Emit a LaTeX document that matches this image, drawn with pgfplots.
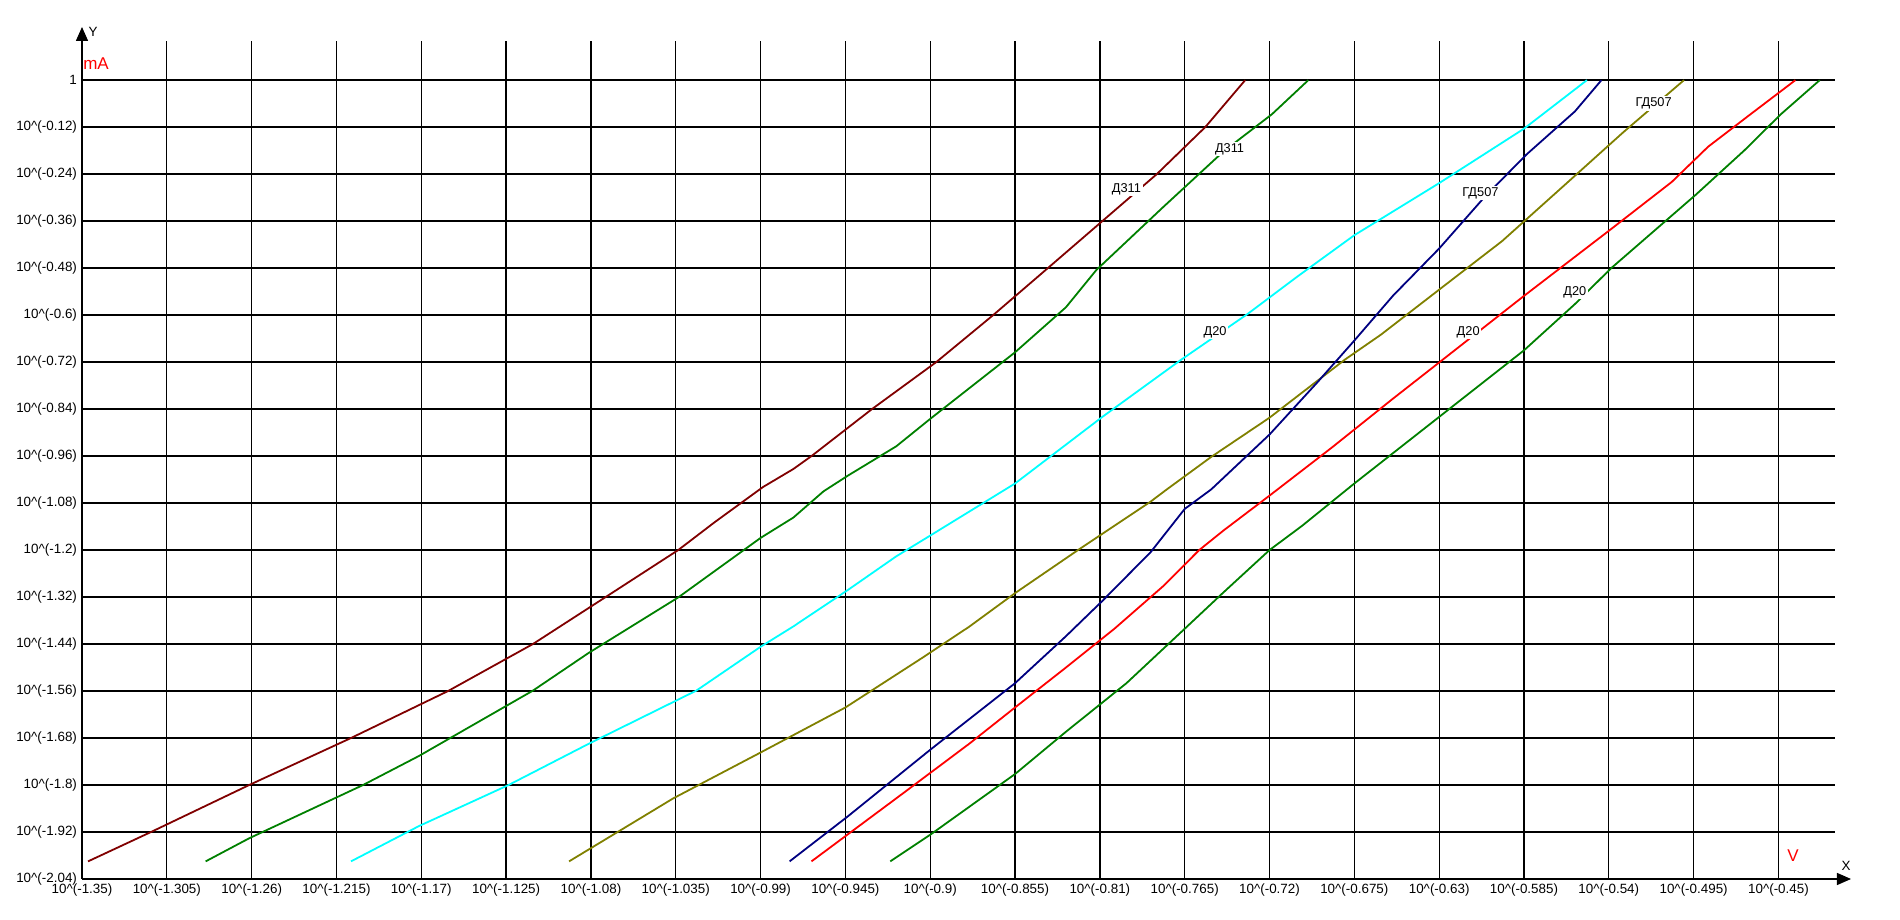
\documentclass[border=0pt]{standalone}
\usepackage{pgfplots}
\pgfplotsset{compat=1.18}
\usepackage{fontspec}
\setmainfont{Liberation Sans}
\usetikzlibrary{arrows.meta}

\definecolor{dred}{HTML}{800000}
\definecolor{dgreen}{HTML}{008000}
\definecolor{olive}{HTML}{808000}
\definecolor{navy}{HTML}{000080}
\definecolor{cyan}{HTML}{00FFFF}

\newcommand{\tp}[1]{10\textasciicircum(#1)}

\begin{document}
\begin{tikzpicture}
\useasboundingbox (0,0) rectangle (950pt,460pt);
\begin{axis}[
    scale only axis,
    width=876.5pt, height=419pt,
    at={(41pt,20.5pt)}, anchor=south west,
    xmin=-1.35, xmax=-0.42,
    ymin=-2.04, ymax=0.1,
    axis x line=bottom, axis y line=left,
    axis line style={line width=0.7pt, -{Triangle[length=7pt,width=6pt]}},
    x axis line style={shorten >=-8pt},
    y axis line style={shorten >=-7pt},
    major tick length=0pt,
    grid=major,
    major grid style={black, line width=0.65pt},
    font=\fontsize{6.7}{7.5}\selectfont,
    xtick={-1.35,-1.305,-1.26,-1.215,-1.17,-1.125,-1.08,-1.035,-0.99,-0.945,-0.9,-0.855,-0.81,-0.765,-0.72,-0.675,-0.63,-0.585,-0.54,-0.495,-0.45},
    xticklabels={\tp{-1.35},\tp{-1.305},\tp{-1.26},\tp{-1.215},\tp{-1.17},\tp{-1.125},\tp{-1.08},\tp{-1.035},\tp{-0.99},\tp{-0.945},\tp{-0.9},\tp{-0.855},\tp{-0.81},\tp{-0.765},\tp{-0.72},\tp{-0.675},\tp{-0.63},\tp{-0.585},\tp{-0.54},\tp{-0.495},\tp{-0.45}},
    ytick={0,-0.12,-0.24,-0.36,-0.48,-0.6,-0.72,-0.84,-0.96,-1.08,-1.2,-1.32,-1.44,-1.56,-1.68,-1.8,-1.92,-2.04},
    yticklabels={1,\tp{-0.12},\tp{-0.24},\tp{-0.36},\tp{-0.48},\tp{-0.6},\tp{-0.72},\tp{-0.84},\tp{-0.96},\tp{-1.08},\tp{-1.2},\tp{-1.32},\tp{-1.44},\tp{-1.56},\tp{-1.68},\tp{-1.8},\tp{-1.92},\tp{-2.04}},
    xticklabel style={yshift=1pt},
    yticklabel style={xshift=1pt},
    every axis plot/.append style={line width=0.9pt, line join=round},
]

% Д311 (dark red)
\addplot[dred] coordinates {
(-1.3468,-1.995) (-1.3134,-1.92) (-1.2613,-1.80) (-1.2073,-1.68) (-1.1558,-1.56)
(-1.1108,-1.44) (-1.0722,-1.32) (-1.0337,-1.20) (-1.0144,-1.129) (-0.9887,-1.039)
(-0.9726,-0.993) (-0.9630,-0.96) (-0.9309,-0.84) (-0.8968,-0.72) (-0.8666,-0.60)
(-0.8376,-0.48) (-0.8087,-0.36) (-0.7798,-0.24) (-0.7541,-0.12) (-0.7329,0)
};

% Д311 (green)
\addplot[dgreen] coordinates {
(-1.2844,-1.995) (-1.2613,-1.936) (-1.2009,-1.800) (-1.1713,-1.726) (-1.1108,-1.559)
(-1.0813,-1.463) (-1.0337,-1.321) (-0.9900,-1.169) (-0.9726,-1.117) (-0.9566,-1.050)
(-0.9437,-1.010) (-0.9180,-0.935) (-0.9000,-0.865) (-0.8550,-0.695) (-0.8280,-0.580)
(-0.8119,-0.485) (-0.7766,-0.325) (-0.7444,-0.182) (-0.7187,-0.087) (-0.6994,0)
};

% Д20 (cyan)
\addplot[cyan] coordinates {
(-1.2073,-1.995) (-1.1713,-1.905) (-1.1237,-1.800) (-1.0813,-1.695) (-1.0241,-1.559)
(-0.9900,-1.447) (-0.9726,-1.395) (-0.9437,-1.302) (-0.9180,-1.216) (-0.9000,-1.163)
(-0.8550,-1.030) (-0.8087,-0.860) (-0.7669,-0.714) (-0.7316,-0.597)
(-0.7059,-0.504) (-0.6750,-0.396) (-0.6300,-0.263) (-0.5850,-0.124) (-0.5516,0)
};

% ГД507 (olive)
\addplot[olive] coordinates {
(-1.0916,-1.995) (-1.0363,-1.834) (-0.9900,-1.717) (-0.9450,-1.602) (-0.9051,-1.478)
(-0.8794,-1.396) (-0.8550,-1.310) (-0.8216,-1.200) (-0.7830,-1.076) (-0.7753,-1.048)
(-0.7509,-0.962) (-0.7200,-0.862) (-0.6801,-0.714) (-0.6609,-0.650) (-0.6300,-0.535)
(-0.5966,-0.411) (-0.5644,-0.272) (-0.5323,-0.133) (-0.5001,0)
};

% ГД507 (navy)
\addplot[navy] coordinates {
(-0.9746,-1.995) (-0.9437,-1.880) (-0.9000,-1.710) (-0.8550,-1.540) (-0.8280,-1.420)
(-0.8087,-1.330) (-0.7830,-1.205) (-0.7650,-1.095) (-0.7509,-1.045)
(-0.7200,-0.905) (-0.6943,-0.770) (-0.6750,-0.665) (-0.6544,-0.550) (-0.6300,-0.430)
(-0.6062,-0.300) (-0.5837,-0.190) (-0.5580,-0.080) (-0.5439,0)
};

% Д20 (red)
\addplot[red] coordinates {
(-0.9630,-1.995) (-0.9180,-1.834) (-0.8794,-1.695) (-0.8550,-1.602) (-0.8280,-1.500)
(-0.8023,-1.401) (-0.7766,-1.293) (-0.7573,-1.200) (-0.7444,-1.150) (-0.7200,-1.061)
(-0.6866,-0.937) (-0.6544,-0.813) (-0.6300,-0.721) (-0.5850,-0.551) (-0.5387,-0.380)
(-0.5066,-0.260) (-0.4873,-0.170) (-0.4648,-0.087) (-0.4410,0)
};

% Д20 (green)
\addplot[dgreen] coordinates {
(-0.9212,-1.995) (-0.9000,-1.927) (-0.8550,-1.772) (-0.8280,-1.664) (-0.7959,-1.540)
(-0.7650,-1.401) (-0.7444,-1.308) (-0.7200,-1.200) (-0.7027,-1.138) (-0.6750,-1.030)
(-0.6300,-0.860) (-0.5850,-0.690) (-0.5580,-0.572) (-0.5387,-0.480) (-0.4937,-0.292)
(-0.4680,-0.179) (-0.4487,-0.087) (-0.4281,0)
};

\begin{scope}[every node/.style={fill=white, inner sep=0.8pt, font=\fontsize{6.4}{7}\selectfont}]
\node at (axis cs:-0.7959,-0.278) {Д311};
\node at (axis cs:-0.7412,-0.176) {Д311};
\node at (axis cs:-0.7489,-0.643) {Д20};
\node at (axis cs:-0.6081,-0.288) {ГД507};
\node at (axis cs:-0.5162,-0.059) {ГД507};
\node at (axis cs:-0.6146,-0.643) {Д20};
\node at (axis cs:-0.5580,-0.541) {Д20};
\end{scope}
\end{axis}

\node[font=\fontsize{6.7}{7.5}\selectfont] at (46.5pt,444pt) {Y};
\node[font=\fontsize{8.5}{9}\selectfont, text=red] at (48pt,428pt) {mA};
\node[font=\fontsize{6.7}{7.5}\selectfont] at (923pt,27pt) {X};
\node[font=\fontsize{8.5}{9}\selectfont, text=red] at (896.5pt,32pt) {V};
\end{tikzpicture}
\end{document}
